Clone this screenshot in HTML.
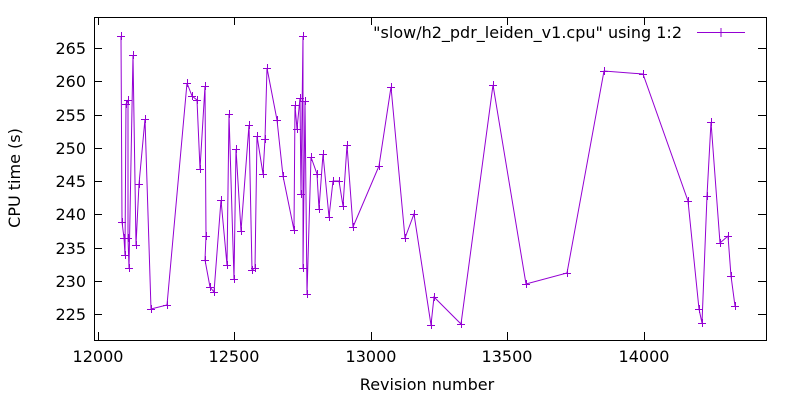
<!DOCTYPE html>
<html><head><style>body{margin:0;background:#fff}svg{display:block}text{font-family:"DejaVu Sans",sans-serif;font-size:16px;fill:#000}</style></head>
<body>
<svg width="800" height="400" viewBox="0 0 800 400">
<rect x="94.5" y="17.5" width="672" height="323" fill="none" stroke="#000" stroke-width="1"/>
<g stroke="#000" stroke-width="1">
<path d="M94 314.5h8M94 281.5h8M94 248.5h8M94 214.5h8M94 181.5h8M94 148.5h8M94 115.5h8M94 81.5h8M94 48.5h8"/>
<path d="M766 314.5h-8M766 281.5h-8M766 248.5h-8M766 214.5h-8M766 181.5h-8M766 148.5h-8M766 115.5h-8M766 81.5h-8M766 48.5h-8"/>
<path d="M98.5 340v-8M234.5 340v-8M371.5 340v-8M507.5 340v-8M644.5 340v-8"/>
<path d="M98.5 17v8M234.5 17v8M371.5 17v8M507.5 17v8M644.5 17v8"/>
</g>
<g text-anchor="end">
<text x="86" y="320">225</text><text x="86" y="287">230</text><text x="86" y="254">235</text><text x="86" y="220">240</text><text x="86" y="187">245</text><text x="86" y="154">250</text><text x="86" y="121">255</text><text x="86" y="87">260</text><text x="86" y="54">265</text>
</g>
<g text-anchor="middle">
<text x="98" y="362">12000</text><text x="234" y="362">12500</text><text x="371" y="362">13000</text><text x="507" y="362">13500</text><text x="644" y="362">14000</text>
<text x="427" y="390">Revision number</text>
<text transform="translate(20,178) rotate(-90)">CPU time (s)</text>
</g>
<text x="682" y="38" text-anchor="end">"slow/h2_pdr_leiden_v1.cpu" using 1:2</text>
<path d="M697 32.5h48M721 28v9" stroke="#9400d3" fill="none"/>
<polyline id="p" fill="none" stroke="#9400d3" stroke-width="1" points="121,36 122,222 124,238 125,255 126,104 128,100 128,238 129,268 133,55 136,245 139,184 145,119 151,309 167,305 187,83 192,96 197,100 200,169 205,86 206,236 205,260 210,287 214,292 221,200 227,265 229,114 234,279 236,149 241,231 249,125 252,270 255,268 257,136 263,174 265,139 267,68 277,120 283,176 294,230 295,105 297,129 300,98 301,194 303,36 303,268 305,101 307,294 311,157 317,174 319,209 323,154 329,217 333,181 339,181 343,206 347,145 353,227 379,166 391,87 405,238 414,214 431,325 434,297 461,324 493,85 526,284 567,273 604,71 643,74 688,201 699,309 702,323 707,196 711,122 720,243 728,236 731,276 735,306"/>
<g stroke="#9400d3" stroke-width="1" id="m"></g>
<script>
var pts=document.getElementById('p').getAttribute('points').trim().split(/\s+/),d='';
pts.forEach(function(s){var a=s.split(',');var x=+a[0],y=+a[1];d+='M'+(x-4)+' '+(y+.5)+'h8M'+(x+.5)+' '+(y-4)+'v8';});
var e=document.createElementNS('http://www.w3.org/2000/svg','path');e.setAttribute('d',d);document.getElementById('m').appendChild(e);
</script>
</svg>
</body></html>
